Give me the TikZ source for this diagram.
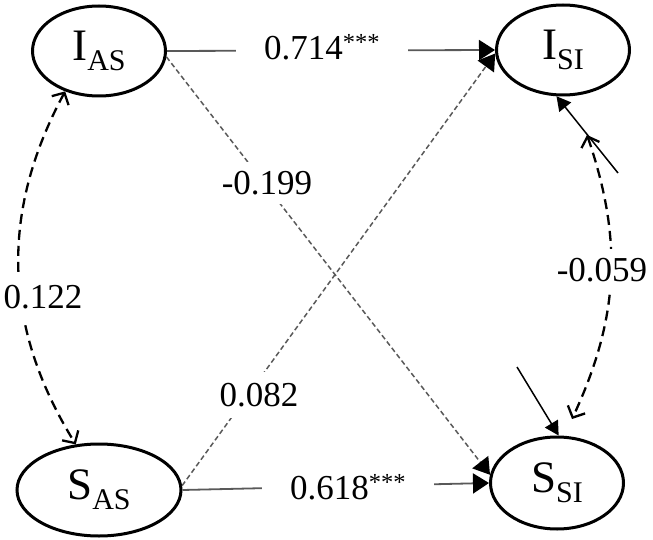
\documentclass[tikz,border=0pt]{standalone}
\usepackage{fontspec}
\setmainfont{Liberation Serif}
\usetikzlibrary{shapes.geometric,arrows.meta}

\newcommand{\latvar}[2]{{\fontsize{45}{50}\selectfont #1}\raisebox{-10pt}{\fontsize{30}{34}\selectfont #2}}

\tikzset{
  latent/.style={ellipse,draw,line width=3pt,inner sep=0pt,
    minimum width=133pt,minimum height=90pt},
  coef/.style={fill=white,inner sep=9pt,font=\fontsize{35}{42}\selectfont},
  regpath/.style={line width=1.8pt,draw=black!65,
    -{Triangle[length=16pt,width=20pt,black]}},
  nspath/.style={regpath,line width=1.5pt,dash pattern=on 5pt off 3pt},
  err/.style={line width=1.5pt,-{Triangle[length=14pt,width=15pt]}},
  cov/.style={line width=2.3pt,dash pattern=on 10pt off 6pt,
    {Straight Barb[length=9pt,width=19pt]}-{Straight Barb[length=9pt,width=19pt]}}
}

\begin{document}
\begin{tikzpicture}[x=1pt,y=-1pt]
  \useasboundingbox (0,0) rectangle (653,540);
  % latent variables
  \node[latent] (IAS) at (99,51) {\latvar{I}{AS}};
  \node[latent] (ISI) at (563,50) {\latvar{I}{SI}};
  \node[latent,minimum width=164pt,minimum height=92pt] (SAS) at (99,490) {\latvar{S}{AS}};
  \node[latent,minimum height=92pt] (SSI) at (557,483) {\latvar{S}{SI}};

  % residuals
  \coordinate (eI) at (618,173);
  \coordinate (eS) at (517,367);
  \coordinate (cI) at (587,135);
  \coordinate (cS) at (572,419);
  \draw[err] (eI) -- (ISI.-98);
  \draw[err] (eS) -- (SSI.88);

  % cross-lagged paths
  \draw[regpath] (IAS.east) -- (ISI.west);
  \draw[regpath] (SAS.east) -- (SSI.west);
  \draw[nspath] (IAS.-5) -- (SSI.173);
  \draw[nspath] (SAS.3) -- (ISI.183);

  % covariances
  \draw[cov] (IAS.-130) to[bend right=30] (SAS.117);
  \draw[cov] (cI) to[bend left=22] (cS);

  % coefficients
  \node[coef,inner xsep=28pt] (bI) at (322,47) {0.714\textsuperscript{***}};
  \node[coef,inner xsep=28pt] (bS) at (348,487) {0.618\textsuperscript{***}};
  \node[coef] (bIS) at (267,183) {-0.199};
  \node[coef,inner sep=11pt] (bSI) at (259,395) {0.082};
  \node[coef,inner sep=12pt] (rA) at (43,297) {0.122};
  \node[coef] (rS) at (602,270) {-0.059};
\end{tikzpicture}
\end{document}
